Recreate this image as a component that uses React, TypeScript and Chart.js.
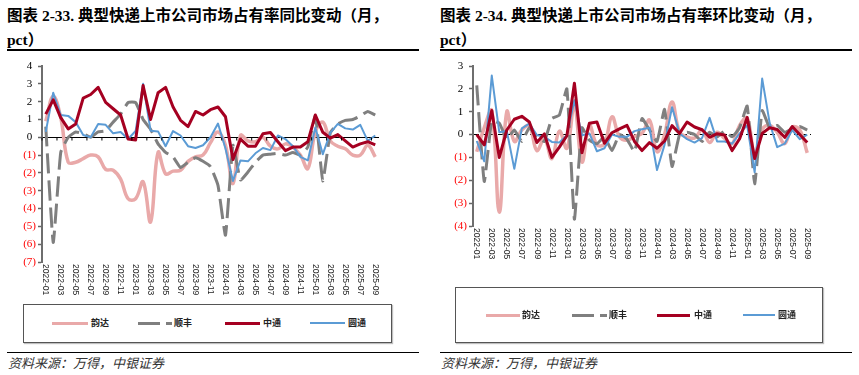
import { useEffect, useRef } from "react";
import { Chart, registerables } from "chart.js";

Chart.register(...registerables);

const months = [
  "2022-01", "2022-02", "2022-03", "2022-04", "2022-05", "2022-06", "2022-07", "2022-08", "2022-09", "2022-10", "2022-11", "2022-12",
  "2023-01", "2023-02", "2023-03", "2023-04", "2023-05", "2023-06", "2023-07", "2023-08", "2023-09", "2023-10", "2023-11", "2023-12",
  "2024-01", "2024-02", "2024-03", "2024-04", "2024-05", "2024-06", "2024-07", "2024-08", "2024-09", "2024-10", "2024-11", "2024-12",
  "2025-01", "2025-02", "2025-03", "2025-04", "2025-05", "2025-06", "2025-07", "2025-08", "2025-09",
];

const seriesNames = ["韵达", "顺丰", "中通", "圆通"];

// 同比 (YoY), pct
const yundaYoY = [0.9, 2.3, 1.1, -1.4, -1.4, -1.2, -1.0, -1.1, -1.8, -1.85, -2.35, -3.45, -3.45, -2.5, -4.75, -0.85, -2.05, -1.9, -1.85, -1.35, -1.1, -1.0, -0.3, 0.3, -0.45, -2.6, 0.1, -0.2, -0.25, 0.0, -0.5, -0.65, -0.37, -0.55, -1.0, -1.75, 0.3, 0.85, -0.2, -0.5, -0.65, -1.0, -1.0, -0.45, -1.1];
const sfYoY = [0.6, -5.9, -0.85, 0.0, 0.3, 0.2, 0.0, 0.3, 0.37, 0.85, 1.3, 1.95, 1.95, 1.0, 0.45, -0.37, -0.85, -1.1, -1.7, -1.4, -1.15, -1.35, -1.65, -2.7, -5.5, -0.45, -2.4, -1.95, -1.4, -1.0, -0.95, -0.9, -1.0, -0.85, -1.0, -0.55, 1.2, -2.45, 0.25, 0.75, 0.95, 1.0, 1.2, 1.45, 1.25];
const ztoYoY = [1.3, 2.1, 1.1, 0.47, 0.75, 2.2, 2.4, 2.8, 1.96, 1.6, 1.25, -0.1, -0.15, 2.9, 1.0, 2.5, 2.8, 1.7, 0.95, 0.6, 1.45, 1.25, 1.55, 1.7, 1.15, -1.25, -0.1, -0.5, -0.5, 0.2, 0.27, -0.25, -0.75, -0.55, -0.55, -0.25, 1.25, 0.28, -0.05, 0.15, -0.2, -0.55, -0.37, -0.25, -0.43];
const ytoYoY = [0.3, 2.5, 1.25, 1.2, 0.85, 0.13, 0.0, 0.75, 0.7, 0.22, 0.3, -0.1, 0.35, 3.0, 0.37, 0.33, -0.5, 0.35, 0.1, -0.5, -0.6, -0.45, 0.0, 0.77, -0.63, -2.45, -1.3, -1.35, -0.9, -0.6, -0.72, 0.1, -0.1, -0.5, -1.1, -1.3, 0.55, -0.95, 0.25, 0.75, 0.5, 0.43, 0.7, -0.2, 0.1];

// 环比 (MoM), pct
const yundaMoM = [-0.75, 0.3, 1.05, -3.4, 1.0, -0.3, 0.2, 0.38, -0.7, -0.17, -1.05, 0.15, -0.6, 1.3, -1.2, 0.4, -0.45, -0.4, 0.78, -0.1, -0.25, -0.08, 0.05, 0.63, -0.75, 0.0, 1.43, 0.1, -0.1, -0.15, 0.2, -0.35, 0.1, -0.17, -0.4, 0.4, 0.73, -0.9, 0.23, 0.4, 0.1, -0.4, 0.33, 0.2, -0.8];
const sfMoM = [2.15, -2.05, 0.6, 0.5, -0.2, 0.2, -0.3, 0.3, -0.1, -0.3, 0.7, 0.85, 2.0, -3.7, 0.3, -0.25, -0.4, -0.1, -0.7, 0.0, -0.2, -0.75, 0.7, 0.2, -0.3, 1.1, -1.4, 0.0, 0.1, 0.0, -0.3, 0.1, -0.1, 0.15, -0.1, 0.3, 1.25, -2.15, 1.05, 0.3, 0.4, 0.1, 0.25, 0.35, 0.2];
const ztoMoM = [0.0, -0.45, 1.05, -1.0, 0.2, 0.67, 0.8, 0.55, -0.35, 0.03, -1.0, -0.55, -0.05, 2.25, -0.8, 0.5, 0.55, -0.38, 0.08, 0.25, 0.4, -0.3, -0.7, -0.35, -0.6, -0.28, 0.39, 0.05, 0.55, 0.33, 0.21, -0.12, 0.04, -0.02, -0.7, -0.18, 0.75, -1.05, 0.05, 0.3, 0.22, -0.12, 0.35, 0.0, -0.35];
const ytoMoM = [-0.28, -1.17, 2.58, 0.1, 0.16, -1.5, 0.27, 0.48, -0.02, -0.1, -0.32, -0.35, -0.03, 1.5, -0.03, 0.05, -0.73, -0.6, 0.0, -0.1, -0.1, 0.15, 0.23, 0.3, -1.55, -0.45, 1.2, 0.05, -0.2, -0.35, -0.15, 0.73, -0.3, -0.3, -0.4, 0.05, 0.4, -1.65, 2.45, 0.5, -0.55, -0.4, 0.2, -0.2, 0.0];

const colors = ["#E9A9A9", "#7F7F7F", "#A50021", "#5B9BD5"];

const xLabelPlugin = {
  id: "xLabels",
  afterDraw(chart: any, _args: any, opts: any) {
    const { ctx, chartArea, scales } = chart;
    const xs = scales.x;
    ctx.save();
    ctx.font = '8.5px "Liberation Sans", Arial, sans-serif';
    ctx.fillStyle = "#222";
    ctx.textAlign = "left";
    ctx.textBaseline = "middle";
    months.forEach((lab, i) => {
      if (i % 2 !== 0) return;
      const x = xs.getPixelForValue(i);
      ctx.save();
      ctx.translate(x, chartArea.bottom + 2);
      ctx.rotate(Math.PI / 2);
      ctx.fillText(lab, 0, 0);
      ctx.restore();
    });
    if (opts && opts.zeroTicks) {
      const y0 = Math.round(scales.y.getPixelForValue(0)) + 0.5;
      ctx.strokeStyle = "#000";
      ctx.lineWidth = 1;
      for (let k = 0; k <= 22; k++) {
        const i = 2 * k - 0.5;
        const x = (xs.getPixelForValue(Math.floor(i)) + xs.getPixelForValue(Math.ceil(i))) / 2;
        const xx = k === 0 ? xs.getPixelForValue(0) - (xs.getPixelForValue(1) - xs.getPixelForValue(0)) / 2 : x;
        ctx.beginPath();
        ctx.moveTo(xx, y0);
        ctx.lineTo(xx, y0 + 3);
        ctx.stroke();
      }
    }
    ctx.restore();
  },
};

type Props = {
  left: number;
  top: number;
  width: number;
  height: number;
  series: number[][];
  yMin: number;
  yMax: number;
  axisW: number;
  padRight: number;
  xH: number;
  zeroDash: number[];
  zeroTicks: boolean;
};

function LineChart(p: Props) {
  const ref = useRef<HTMLCanvasElement>(null);
  useEffect(() => {
    const widths = [3.5, 3, 3, 2];
    const orders = [4, 3, 1, 2];
    const tensions = [0.4, 0.12, 0, 0];
    const chart = new Chart(ref.current as HTMLCanvasElement, {
      type: "line",
      data: {
        labels: months,
        datasets: p.series.map((d, k) => ({
          label: seriesNames[k],
          data: d,
          borderColor: colors[k],
          backgroundColor: colors[k],
          borderWidth: widths[k],
          borderDash: k === 1 ? [20, 7] : [],
          pointRadius: 0,
          tension: tensions[k],
          order: orders[k],
          borderJoinStyle: "round",
          fill: false,
        })),
      },
      options: {
        responsive: false,
        animation: false,
        devicePixelRatio: 1,
        layout: { padding: { left: 0, right: p.padRight, top: 11, bottom: 0 } },
        plugins: {
          legend: { display: false },
          tooltip: { enabled: false },
          xLabels: { zeroTicks: p.zeroTicks },
        } as any,
        scales: {
          x: {
            type: "category",
            offset: true,
            grid: { display: false },
            border: { display: false },
            ticks: { display: false },
            afterFit: (s: any) => {
              s.height = p.xH;
            },
          },
          y: {
            min: p.yMin,
            max: p.yMax,
            ticks: {
              stepSize: 1,
              padding: 2,
              color: (c: any) => (c.tick && c.tick.value < 0 ? "#FF0000" : "#000000"),
              font: { family: '"Liberation Serif", "Times New Roman", serif', size: 11 },
              callback: (v: any) => (Number(v) < 0 ? `(${-Number(v)})` : `${v}\u2004`),
            },
            grid: {
              color: (c: any) => (c.tick && c.tick.value === 0 ? "#000000" : "rgba(0,0,0,0)"),
              lineWidth: 1,
              drawTicks: true,
              tickLength: 4,
              tickColor: "#666666",
              tickWidth: 1.5,
            },
            border: { display: true, color: "#6E6E6E", width: 2, dash: p.zeroDash },
            afterFit: (s: any) => {
              s.width = p.axisW;
            },
          },
        },
      },
      plugins: [xLabelPlugin],
    });
    return () => chart.destroy();
  }, []);
  return (
    <canvas
      ref={ref}
      width={p.width}
      height={p.height}
      style={{ position: "absolute", left: p.left, top: p.top, width: p.width, height: p.height }}
    />
  );
}

const titleFont = '"Liberation Serif", "Times New Roman", "Noto Sans CJK SC", serif';
const cjkFont = '"Noto Sans CJK SC", "Liberation Sans", sans-serif';

function Legend({ left, top, width, height, cy, items }: { left: number; top: number; width: number; height: number; cy: number; items: number[][] }) {
  return (
    <>
      <div
        style={{
          position: "absolute",
          left,
          top,
          width,
          height,
          border: "1.5px solid #555",
          boxSizing: "border-box",
          boxShadow: "1px 1px 1px rgba(0,0,0,0.25)",
        }}
      />
      {items.map(([x0, x1, tx], k) => (
        <div key={k}>
          <div
            style={{
              position: "absolute",
              left: x0,
              top: cy - (k === 3 ? 1 : 1.5),
              width: x1 - x0,
              height: k === 3 ? 2 : 3,
              background:
                k === 1
                  ? `repeating-linear-gradient(to right, ${colors[1]} 0px, ${colors[1]} 22px, transparent 22px, transparent 28px)`
                  : colors[k],
            }}
          />
          <div
            style={{
              position: "absolute",
              left: tx,
              top: cy - 7,
              fontFamily: cjkFont,
              fontSize: 9,
              fontWeight: 700,
              lineHeight: "14px",
              color: "#222",
              whiteSpace: "nowrap",
            }}
          >
            {seriesNames[k]}
          </div>
        </div>
      ))}
    </>
  );
}

function Panel({ x, title }: { x: number; title: string }) {
  return (
    <>
      <div
        style={{
          position: "absolute",
          left: x,
          top: 4,
          fontFamily: titleFont,
          fontSize: 15.5,
          fontWeight: 700,
          lineHeight: "24px",
          color: "#000",
          whiteSpace: "nowrap",
        }}
      >
        {title}
        <br />
        pct）
      </div>
      <div style={{ position: "absolute", left: x, top: 49, width: 412, height: 1.5, background: "#000" }} />
      <div style={{ position: "absolute", left: x, top: 351.5, width: 412, height: 1.5, background: "#000" }} />
      <div
        style={{
          position: "absolute",
          left: x + 1,
          top: 355,
          fontFamily: cjkFont,
          fontSize: 13,
          fontStyle: "italic",
          lineHeight: "16px",
          color: "#333",
          whiteSpace: "nowrap",
        }}
      >
        资料来源：万得，中银证券
      </div>
    </>
  );
}

export default function App() {
  return (
    <div style={{ position: "absolute", left: 0, top: 0, width: 859, height: 375, background: "#fff", overflow: "hidden" }}>
      <Panel x={7} title="图表 2-33. 典型快递上市公司市场占有率同比变动（月，" />
      <Panel x={440} title="图表 2-34. 典型快递上市公司市场占有率环比变动（月，" />
      <LineChart
        left={0}
        top={55}
        width={430}
        height={245}
        series={[yundaYoY, sfYoY, ztoYoY, ytoYoY]}
        yMin={-7}
        yMax={4}
        axisW={42}
        padRight={51}
        xH={38}
        zeroDash={[]}
        zeroTicks={true}
      />
      <LineChart
        left={430}
        top={55}
        width={429}
        height={232}
        series={[yundaMoM, sfMoM, ztoMoM, ytoMoM]}
        yMin={-4}
        yMax={3}
        axisW={43}
        padRight={48}
        xH={61}
        zeroDash={[5, 3]}
        zeroTicks={false}
      />
      <Legend
        left={23}
        top={304}
        width={369}
        height={39}
        cy={323}
        items={[
          [52, 88, 91],
          [138, 172, 174],
          [225, 260, 263],
          [310, 345, 348],
        ]}
      />
      <Legend
        left={455}
        top={287}
        width={368}
        height={56}
        cy={315}
        items={[
          [486, 520, 522],
          [572, 607, 609],
          [657, 690, 694],
          [743, 775, 778],
        ]}
      />
    </div>
  );
}
